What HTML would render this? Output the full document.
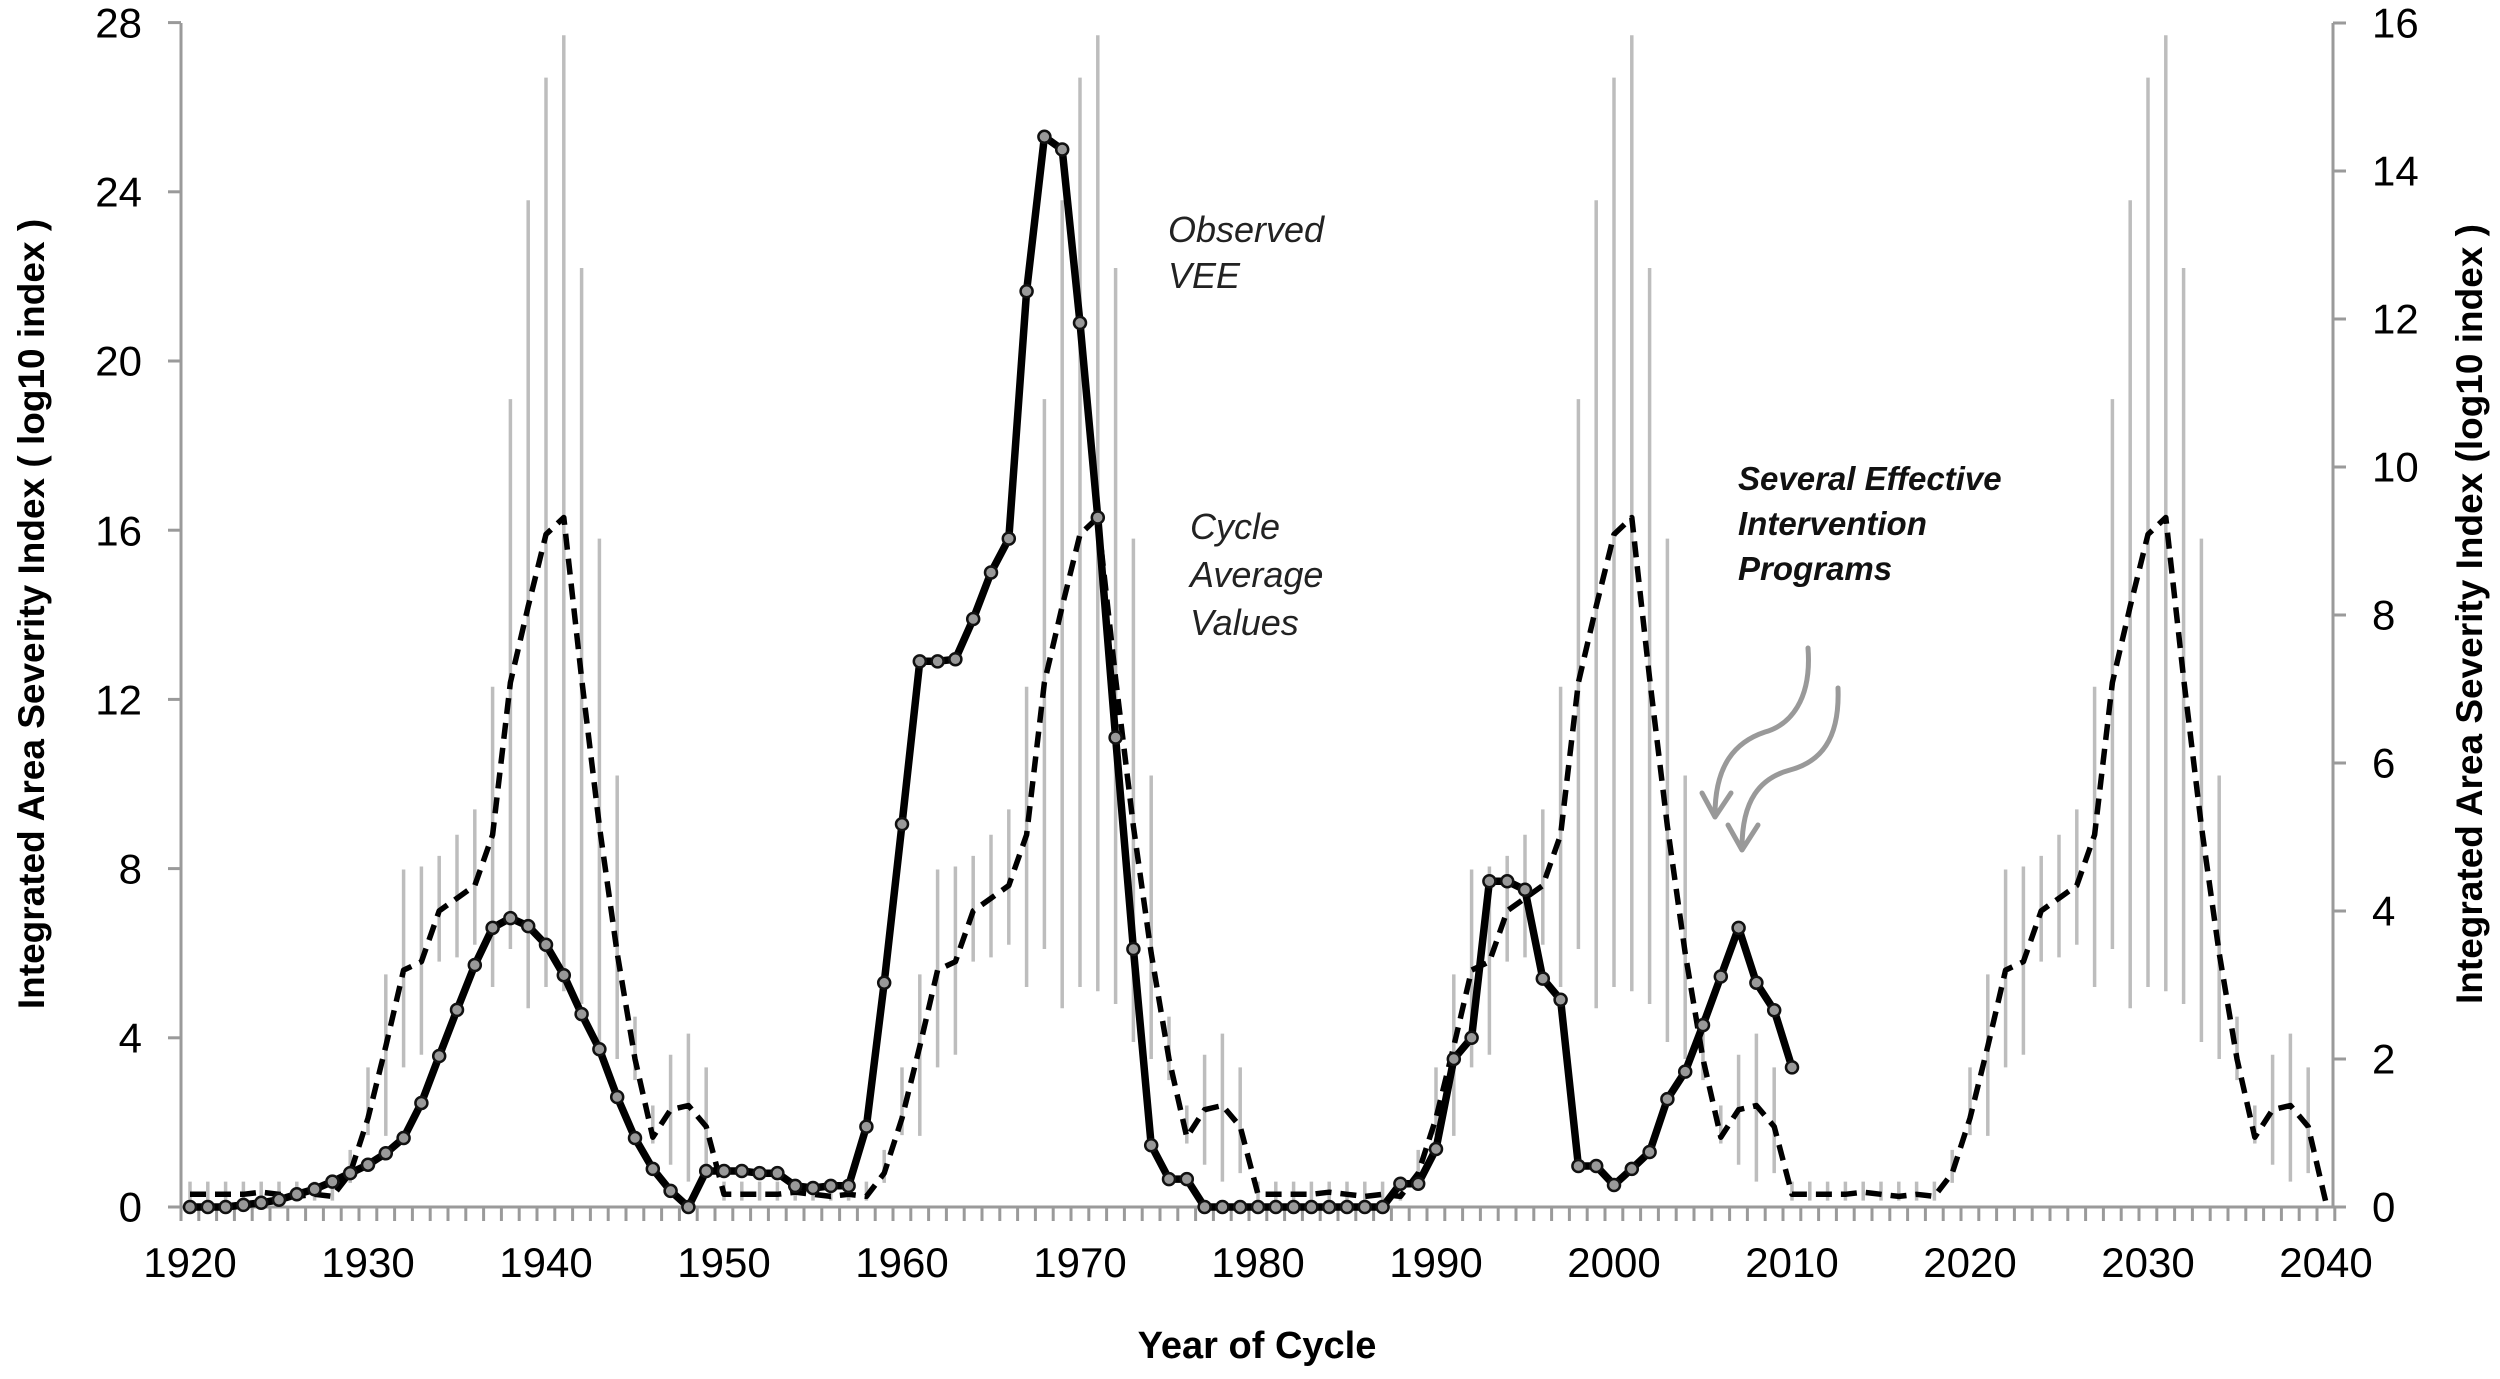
<!DOCTYPE html>
<html><head><meta charset="utf-8"><style>
html,body{margin:0;padding:0;background:#fff;}
svg{display:block;font-family:"Liberation Sans",Arial,sans-serif;}
</style></head><body>
<svg id="s" width="2500" height="1379" viewBox="0 0 2500 1379" xmlns="http://www.w3.org/2000/svg">
<rect width="2500" height="1379" fill="#fff"/>
<g id="bars" stroke="#bdbdbd" stroke-width="3.5"></g>
<g id="axes" stroke="#9a9a9a" stroke-width="3" fill="none"></g>
<path id="dash" fill="none" stroke="#000" stroke-width="5.5" stroke-dasharray="16,9" stroke-linejoin="round"/>
<path id="solid" fill="none" stroke="#000" stroke-width="7.5" stroke-linejoin="round"/>
<g id="marks" fill="#999" stroke="#111" stroke-width="2.5"></g>
<g fill="none" stroke="#999" stroke-width="5" stroke-linecap="round" stroke-linejoin="round">
<path d="M1808,648 C1812,700 1790,725 1765,732 C1735,742 1715,765 1715,815"/>
<path d="M1702,793 L1715,817 L1731,793"/>
<path d="M1838,688 C1840,740 1820,762 1790,770 C1760,778 1742,800 1742,848"/>
<path d="M1728,825 L1742,850 L1758,825"/>
</g>
<g font-size="42" fill="#000" text-anchor="end" dominant-baseline="central">
<text x="142" y="1207">0</text><text x="142" y="1038">4</text><text x="142" y="869">8</text><text x="142" y="700">12</text><text x="142" y="531">16</text><text x="142" y="361">20</text><text x="142" y="192">24</text><text x="142" y="23">28</text>
</g>
<g font-size="42" fill="#000" text-anchor="start" dominant-baseline="central">
<text x="2372" y="1207">0</text><text x="2372" y="1059">2</text><text x="2372" y="911">4</text><text x="2372" y="763">6</text><text x="2372" y="615">8</text><text x="2372" y="467">10</text><text x="2372" y="319">12</text><text x="2372" y="171">14</text><text x="2372" y="23">16</text>
</g>
<g font-size="42" fill="#000" text-anchor="middle">
<text x="190" y="1277">1920</text><text x="368" y="1277">1930</text><text x="546" y="1277">1940</text><text x="724" y="1277">1950</text><text x="902" y="1277">1960</text><text x="1080" y="1277">1970</text><text x="1258" y="1277">1980</text><text x="1436" y="1277">1990</text><text x="1614" y="1277">2000</text><text x="1792" y="1277">2010</text><text x="1970" y="1277">2020</text><text x="2148" y="1277">2030</text><text x="2326" y="1277">2040</text>
</g>
<text x="1257" y="1358" font-size="38" font-weight="bold" text-anchor="middle">Year of Cycle</text>
<text transform="translate(44,614) rotate(-90)" font-size="37" font-weight="bold" text-anchor="middle">Integrated Area Severity Index  ( log10 index )</text>
<text transform="translate(2482,614) rotate(-90)" font-size="37" font-weight="bold" text-anchor="middle">Integrated Area Severity Index  (log10 index )</text>
<g font-size="36" font-style="italic" fill="#222">
<text x="1168" y="242">Observed</text><text x="1168" y="288">VEE</text>
<text x="1190" y="539">Cycle</text><text x="1190" y="587">Average</text><text x="1190" y="635">Values</text>
</g>
<g font-size="33" font-style="italic" font-weight="bold" fill="#111">
<text x="1738" y="490">Several Effective</text><text x="1738" y="535">Intervention</text><text x="1738" y="580">Programs</text>
</g>
</svg>
<script>
var NS="http://www.w3.org/2000/svg";
function X(y){return 190+(y-1920)*17.8;}
function Y(v){return 1207-v*42.3;}
function el(p,t,a){var e=document.createElementNS(NS,t);for(var k in a)e.setAttribute(k,a[k]);p.appendChild(e);return e;}
var ax=document.getElementById('axes');
el(ax,'line',{x1:181,y1:1207,x2:2333,y2:1207});
el(ax,'line',{x1:181,y1:23,x2:181,y2:1207});
el(ax,'line',{x1:2333,y1:23,x2:2333,y2:1207});
for(var k=0;k<=121;k++){var x=181+k*17.8;el(ax,'line',{x1:x,y1:1207,x2:x,y2:1221});}
for(var v=0;v<=28;v+=4){el(ax,'line',{x1:168,y1:Y(v),x2:181,y2:Y(v)});}
for(var r=0;r<=16;r+=2){var yy=1207-r*74;el(ax,'line',{x1:2333,y1:yy,x2:2346,y2:yy});}
var pre=[0.2,0.8,2.1,3.8,5.6,5.8,7.0,7.3,7.6,8.8,12.4,14.2,15.9,16.3];
var post=[12.5,9.0,6.0,3.5,1.65,2.3,2.4,1.9,0.3];
var base=[0.3,0.3,0.3,0.35,0.3,0.25,0.3,0.25];
var bars={"-12":[1.35,0.57],"-11":[3.3,1.7],"-10":[5.5,1.68],"-9":[7.98,3.3],"-8":[8.05,3.6],"-7":[8.3,5.8],"-6":[8.8,5.9],"-5":[9.4,6.2],"-4":[12.3,5.2],"-3":[19.1,6.1],"-2":[23.8,4.7],"-1":[26.7,5.2],"0":[27.7,5.1],"1":[22.2,4.8],"2":[15.8,3.9],"3":[10.2,3.5],"4":[4.5,3.0],"5":[2.4,1.5],"6":[3.6,1.0],"7":[4.1,0.6],"8":[3.3,0.8]};
function dv(yr){var o=((yr-1941)%30+30)%30;
 if(o==0)return pre[13];
 if(o<=9)return (yr==2040)?0.1:post[o-1];
 if(o<=17)return base[o-10];
 return pre[13-(30-o)];}
function off(yr){var o=((yr-1941)%30+30)%30;return o>15?o-30:o;}
var d="",bg=document.getElementById('bars');
for(var yr=1920;yr<=2040;yr++){d+=(yr==1920?"M":"L")+X(yr).toFixed(1)+","+Y(dv(yr)).toFixed(1);
 var b=bars[String(off(yr))];
 if(b){el(bg,'line',{x1:X(yr),y1:Y(b[0]),x2:X(yr),y2:Y(b[1])});}
 else if(yr<2040){el(bg,'line',{x1:X(yr),y1:Y(0.6),x2:X(yr),y2:Y(0.15)});}
}
document.getElementById('dash').setAttribute('d',d);
var sol=[0,0,0,0.05,0.1,0.17,0.3,0.42,0.6,0.8,1.0,1.27,1.63,2.46,3.57,4.66,5.72,6.6,6.83,6.64,6.2,5.48,4.56,3.73,2.6,1.63,0.9,0.38,0,0.85,
0.85,0.85,0.8,0.8,0.5,0.45,0.5,0.5,1.9,5.3,9.05,12.9,12.9,12.95,13.9,15.0,15.8,21.65,25.3,25.0,20.9,16.3,11.1,6.1,1.46,0.66,0.66,0,0,0,
0,0,0,0,0,0,0,0,0.55,0.55,1.37,3.5,4.0,7.7,7.7,7.5,5.4,4.9,0.97,0.97,0.52,0.9,1.3,2.55,3.2,4.3,5.45,6.6,5.3,4.65,3.3];
var s="",mk=document.getElementById('marks');
for(var i=0;i<sol.length;i++){var x=X(1920+i),y=Y(sol[i]);s+=(i?"L":"M")+x.toFixed(1)+","+y.toFixed(1);el(mk,'circle',{cx:x,cy:y,r:6});}
document.getElementById('solid').setAttribute('d',s);
</script>
</body></html>
